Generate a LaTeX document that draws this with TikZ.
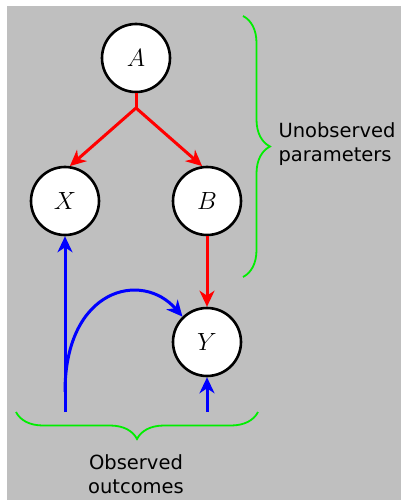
\documentclass[tikz,border=0pt]{standalone}
\usepackage{fontspec}
\setsansfont{DejaVu Sans}
\usetikzlibrary{arrows.meta,decorations.pathreplacing}
\definecolor{panel}{HTML}{BFBFBF}
\definecolor{bracegreen}{HTML}{00EE00}
\begin{document}
\begin{tikzpicture}[x=1pt,y=-1pt,
  var/.style={circle,draw=black,fill=white,line width=2.6pt,minimum size=68pt,inner sep=0pt,
    font=\fontsize{24}{28}\selectfont},
  tip/.style={-{Stealth[length=16pt,width=15pt,inset=5pt]}},
  redlink/.style={draw=red,line width=3pt},
  bluelink/.style={draw=blue,line width=3pt},
  grouping/.style={draw=bracegreen,line width=1.8pt,decorate,decoration={brace,amplitude=27pt}},
  caption/.style={font=\sffamily\fontsize{19.5}{24.5}\selectfont,align=left}]
  \useasboundingbox (0,0) rectangle (401,500);
  \fill[panel] (7,6) rectangle (401,500);

  % variables
  \node[var] (A) at (136,58) {$A$};
  \node[var] (X) at (65,201) {$X$};
  \node[var] (B) at (207,201) {$B$};
  \node[var] (Y) at (207,342) {$Y$};

  % parameter links
  \coordinate (fork) at (136,108);
  \draw[redlink] (A.south) -- (fork);
  \draw[redlink,tip] (fork) -- (X.82);
  \draw[redlink,tip] (fork) -- (B.98);
  \draw[redlink,tip] (B) -- (Y);

  % observation links
  \coordinate (xin) at (65,412);
  \coordinate (yin) at (207,412);
  \coordinate (bend) at (65,392);
  \draw[bluelink,tip] (xin) -- (X);
  \draw[bluelink,tip] (yin) -- (Y);
  \draw[bluelink,tip] (bend) .. controls (65,288) and (142,270) .. (Y.134);

  % braces and captions
  \coordinate (ptop) at (243,16);
  \coordinate (pbot) at (243,277);
  \draw[grouping] (ptop) -- (pbot);
  \node[caption,anchor=west] (unobs) at (275,144) {Unobserved\\parameters};

  \coordinate (oleft) at (16,412);
  \coordinate (oright) at (258,412);
  \draw[grouping] (oright) -- (oleft);
  \node[caption,align=center] (obs) at (136,474) {Observed\\outcomes};
\end{tikzpicture}
\end{document}
